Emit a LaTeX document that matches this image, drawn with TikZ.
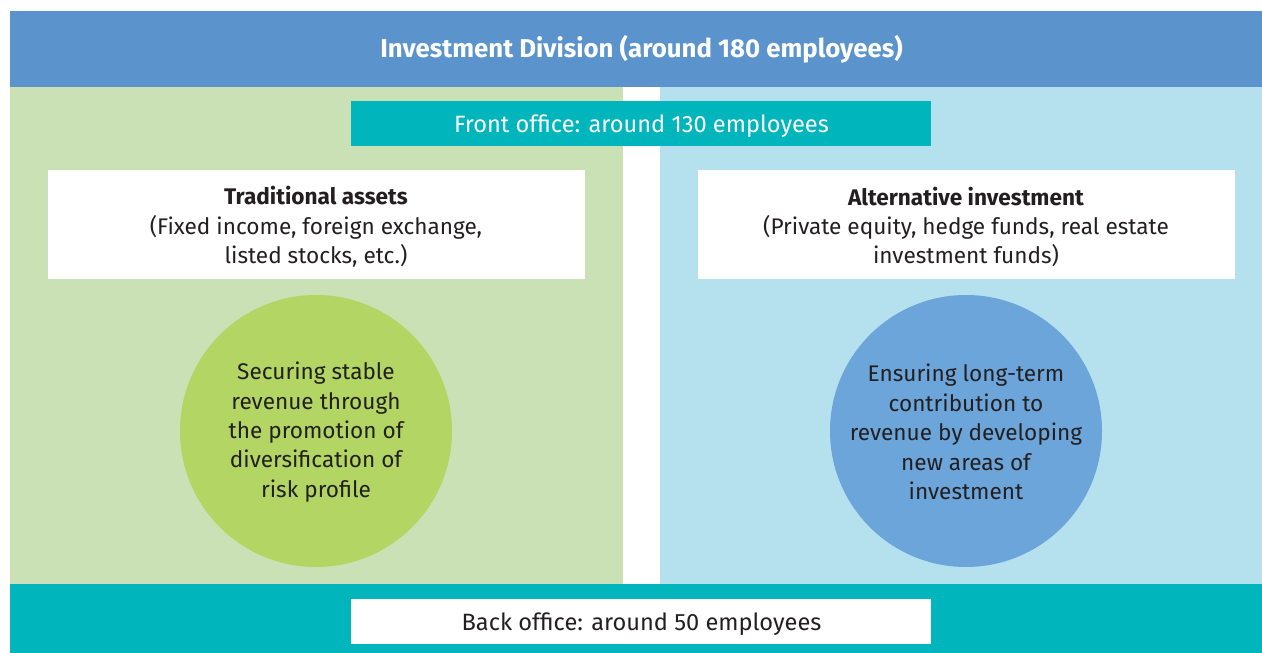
\documentclass[tikz,border=0pt]{standalone}
\usepackage{fontspec}
\setmainfont{Fira Sans}
\definecolor{hdrblue}{HTML}{5B94CD}
\definecolor{panelgreen}{HTML}{C9E1B4}
\definecolor{panelblue}{HTML}{B5E0EE}
\definecolor{teal}{HTML}{00B5BC}
\definecolor{circgreen}{HTML}{B2D563}
\definecolor{circblue}{HTML}{6CA5DA}
\definecolor{txt}{HTML}{231F20}
\tikzset{
  bodytext/.style={text=txt, align=center, inner sep=0pt, font=\fontsize{22.6}{29.4}\selectfont},
  bandtext/.style={inner sep=0pt, font=\fontsize{23.6}{28}\selectfont},
}
\begin{document}
\begin{tikzpicture}[x=1pt,y=-1pt]
\useasboundingbox (0,0) rectangle (1262,653);
\fill[white] (0,0) rectangle (1262,653);
% panels
\fill[hdrblue] (10,11) rectangle (1262,87);
\fill[panelgreen] (10,87) rectangle (623,584);
\fill[panelblue] (660,87) rectangle (1262,584);
\fill[teal] (10,584) rectangle (1262,653);
\node[text=white, font=\bfseries\fontsize{25.8}{30}\selectfont, inner sep=0pt] (hdr) at (641.5,49) {Investment Division (around 180 employees)};
% front office
\fill[teal] (351,101) rectangle (931,146);
\node[bandtext, text=white] (front) at (641.5,126) {Front office: around 130 employees};
% back office
\fill[white] (351,599) rectangle (931,644);
\node[bandtext, text=txt] (back) at (641.5,624) {Back office: around 50 employees};
% traditional
\fill[white] (48,170) rectangle (585,279);
\node[bodytext] (trad) at (316,227) {\textbf{Traditional assets}\\(Fixed income, foreign exchange,\\listed stocks, etc.)};
\fill[white] (698,170) rectangle (1235,279);
\node[bodytext] (alt) at (966,227) {\textbf{Alternative investment}\\(Private equity, hedge funds, real estate\\investment funds)};
% circles
\fill[circgreen] (316,431) circle[radius=136];
\node[bodytext] (c1) at (316,432) {Securing stable\\revenue through\\the promotion of\\diversification of\\risk profile};
\fill[circblue] (966,431) circle[radius=136];
\node[bodytext] (c2) at (966,432) {Ensuring long-term\\contribution to\\revenue by developing\\new areas of\\investment};
\end{tikzpicture}
\end{document}
